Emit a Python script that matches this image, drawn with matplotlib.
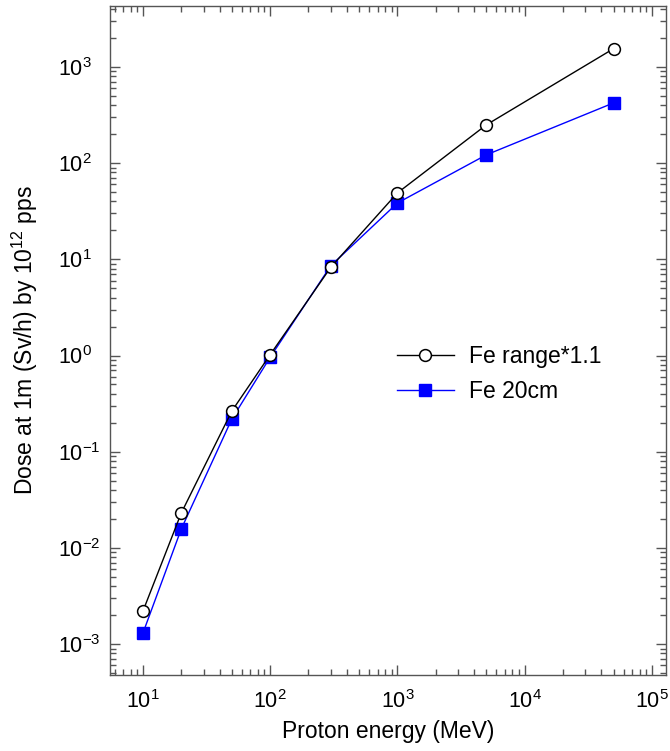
import matplotlib
matplotlib.use("Agg")
import matplotlib.pyplot as plt
from matplotlib.ticker import LogLocator, NullFormatter, FixedLocator, LogFormatterSciNotation

plt.rcParams['font.family'] = ['Liberation Sans', 'DejaVu Sans']
plt.rcParams['mathtext.fontset'] = 'custom'
plt.rcParams['mathtext.rm'] = 'Liberation Sans'
plt.rcParams['mathtext.it'] = 'Liberation Sans:italic'

energy = [10, 20, 50, 100, 300, 1000, 5000, 50000]
fe_range = [0.0022, 0.023, 0.265, 1.02, 8.3, 49, 250, 1550]
fe_20cm = [0.0013, 0.0157, 0.219, 0.96, 8.6, 38.5, 122, 423]
series_labels = ["Fe range*1.1", "Fe 20cm"]
x_major = [1e1, 1e2, 1e3, 1e4, 1e5]
y_major = [1e-3, 1e-2, 1e-1, 1e0, 1e1, 1e2, 1e3]

fig = plt.figure(figsize=(6.70, 7.51), dpi=100)
ax = fig.add_axes([0.164, 0.101, 0.830, 0.891])

ax.plot(energy, fe_range, color='black', lw=1.0, marker='o', ms=8.5,
        mfc='white', mec='black', mew=1.1, label=series_labels[0], zorder=3)
ax.plot(energy, fe_20cm, color='blue', lw=1.0, marker='s', ms=8.5,
        mfc='blue', mec='blue', label=series_labels[1], zorder=2)

ax.set_xscale('log')
ax.set_yscale('log')
ax.set_xlim(5.5, 1.29e5)
ax.set_ylim(4.76e-4, 4300)

ax.xaxis.set_major_locator(FixedLocator(x_major))
ax.yaxis.set_major_locator(FixedLocator(y_major))
ax.xaxis.set_major_formatter(LogFormatterSciNotation())
ax.yaxis.set_major_formatter(LogFormatterSciNotation())
ax.xaxis.set_minor_locator(LogLocator(base=10, subs=range(2, 10), numticks=20))
ax.yaxis.set_minor_locator(LogLocator(base=10, subs=range(2, 10), numticks=20))
ax.xaxis.set_minor_formatter(NullFormatter())
ax.yaxis.set_minor_formatter(NullFormatter())

frame_col = '#555555'
for s in ax.spines.values():
    s.set_color(frame_col)
    s.set_linewidth(1.0)
ax.tick_params(which='both', direction='in', top=True, right=True,
               color=frame_col, width=1.0, labelsize=15.5)
ax.tick_params(which='major', length=7)
ax.tick_params(which='minor', length=4)
ax.tick_params(axis='x', which='major', pad=11)
ax.tick_params(axis='y', which='major', pad=37.5)
for lbl in ax.get_yticklabels():
    lbl.set_horizontalalignment('left')

ax.set_xlabel("Proton energy (MeV)", fontsize=16.5)
ax.set_ylabel("Dose at 1m (Sv/h) by 10$^{12}$ pps", fontsize=16.5)
ax.xaxis.set_label_coords(0.5, -0.067)
ax.yaxis.set_label_coords(-0.125, 0.5)

ax.legend(loc='center left', bbox_to_anchor=(0.516, 0.45), frameon=False,
          fontsize=16.5, borderpad=0, borderaxespad=0, handlelength=2.5,
          handletextpad=0.65, labelspacing=0.5)

fig.savefig("out.png", dpi=100)
